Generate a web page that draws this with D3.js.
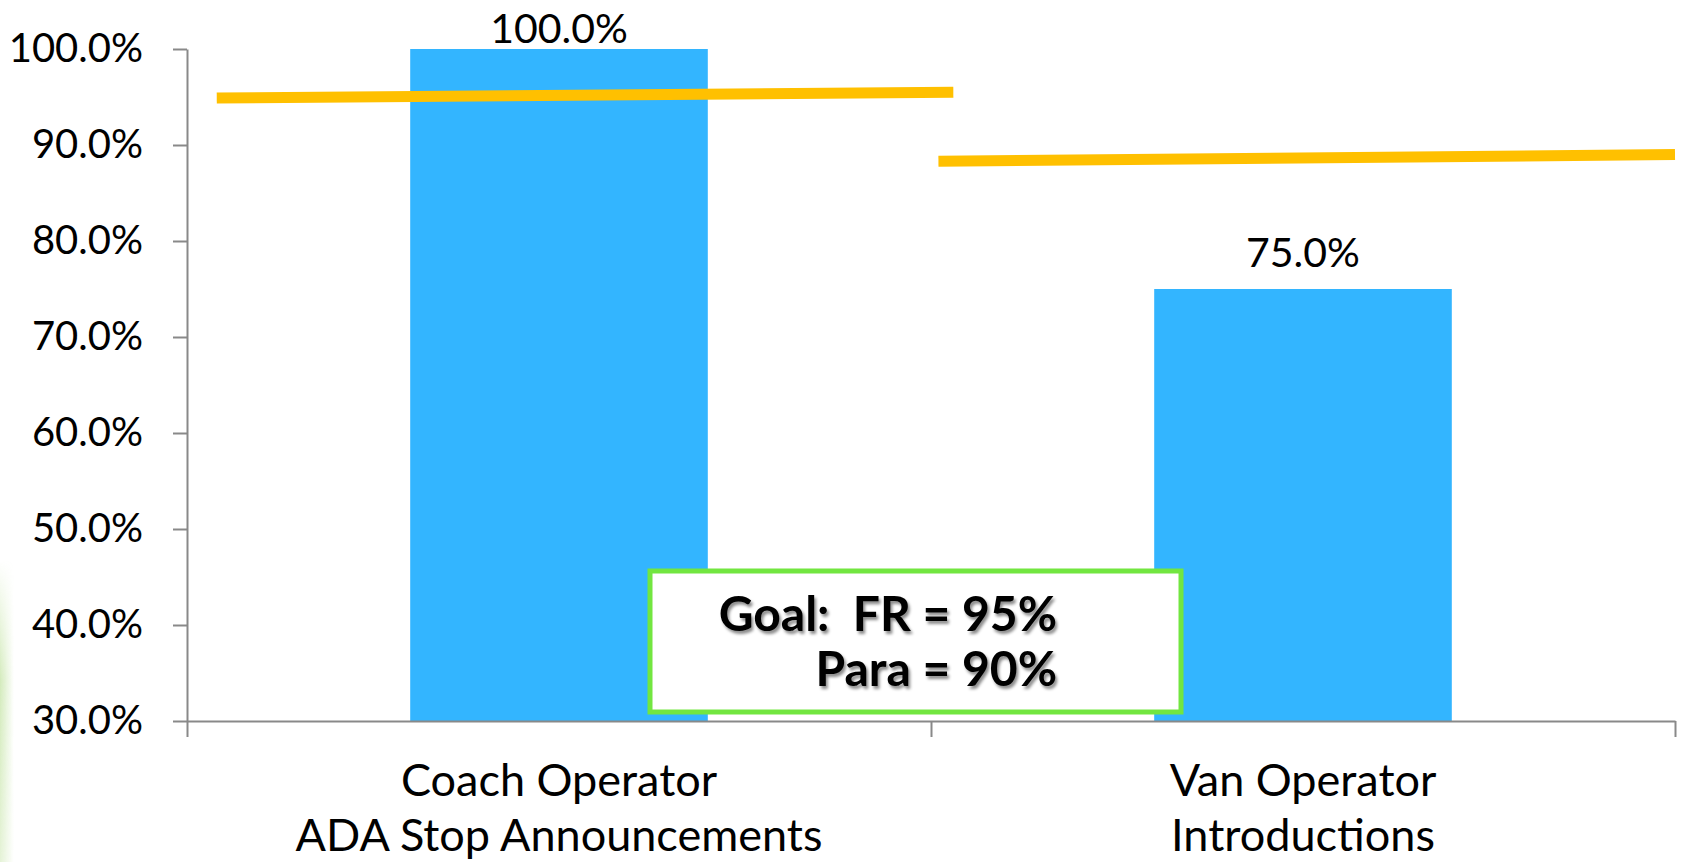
<!DOCTYPE html>
<html lang="en">
<head>
<meta charset="UTF-8" />
<title>Operator Goal Results</title>
<script src="https://d3js.org/d3.v7.min.js"></script>
<style>
  html, body { margin: 0; padding: 0; background: #fff; }
  svg { display: block; font-family: "Gill Sans", "Gill Sans MT", Lato, sans-serif; }
  .axis path, .axis line { stroke: #898989; stroke-width: 2px; }
  .axis text { fill: #000; font-size: 40px; font-family: "Gill Sans", "Gill Sans MT", Lato, sans-serif; }
  .bar-label { font-size: 41px; fill: #000; }
  .cat-label { font-size: 45px; fill: #000; }
  .goal-text { font-size: 48px; font-weight: bold; fill: #000; white-space: pre; }
</style>
</head>
<body>
<svg id="chart"></svg>
<script>
const categories = [["Coach Operator", "ADA Stop Announcements"], ["Van Operator", "Introductions"]];
const values = [100, 75];
const yTicks = [30, 40, 50, 60, 70, 80, 90, 100];

// goal lines (hand drawn in the original, so they lean a bit)
const goalNames = ["FR", "Para"];
const goalTargets = [95, 90];
const goalStart = [94.9, 88.3];
const goalEnd = [95.5, 89.0];
const goalFrom = [0.04, 1.01];   // in category units
const goalTo = [1.03, 2.0];

const W = 1682, H = 862;
const margin = { top: 49, right: 7, bottom: 141, left: 187 };

const svg = d3.select("#chart").attr("width", W).attr("height", H);

// faint green edge glow from the slide background
const defs = svg.append("defs");
const grad = defs.append("linearGradient").attr("id", "glow").attr("x1", 0).attr("x2", 1);
grad.append("stop").attr("offset", 0).attr("stop-color", "#9ed26a").attr("stop-opacity", 0.45);
grad.append("stop").attr("offset", 1).attr("stop-color", "#9ed26a").attr("stop-opacity", 0);
const vgrad = defs.append("linearGradient").attr("id", "glowMask").attr("x1", 0).attr("x2", 0).attr("y1", 0).attr("y2", 1);
vgrad.append("stop").attr("offset", 0).attr("stop-color", "#fff").attr("stop-opacity", 0);
vgrad.append("stop").attr("offset", 0.4).attr("stop-color", "#fff").attr("stop-opacity", 1);
vgrad.append("stop").attr("offset", 1).attr("stop-color", "#fff").attr("stop-opacity", 0.6);
defs.append("mask").attr("id", "glowM")
  .append("rect").attr("x", 0).attr("y", 560).attr("width", 20).attr("height", 302).attr("fill", "url(#glowMask)");

const shadow = defs.append("filter").attr("id", "shadow").attr("x", "-10%").attr("y", "-20%").attr("width", "130%").attr("height", "150%");
shadow.append("feDropShadow").attr("dx", 2).attr("dy", 3).attr("stdDeviation", 1.6)
  .attr("flood-color", "#000").attr("flood-opacity", 0.45);

svg.append("rect").attr("x", 0).attr("y", 560).attr("width", 14).attr("height", 302)
  .attr("fill", "url(#glow)").attr("mask", "url(#glowM)");

const y = d3.scaleLinear().domain([30, 100]).range([H - margin.bottom, margin.top]);
const x = d3.scaleBand().domain(d3.range(values.length))
  .range([margin.left, W - margin.right]).paddingInner(0.6).paddingOuter(0.3);
const xu = d3.scaleLinear().domain([0, values.length]).range([margin.left, W - margin.right]);

// bars
svg.append("g").selectAll("rect")
  .data(values)
  .join("rect")
  .attr("x", (d, i) => x(i))
  .attr("y", d => y(d))
  .attr("width", x.bandwidth())
  .attr("height", d => y(30) - y(d))
  .attr("fill", "#33b5ff");

// value labels
svg.append("g").selectAll("text")
  .data(values)
  .join("text")
  .attr("class", "bar-label")
  .attr("x", (d, i) => x(i) + x.bandwidth() / 2)
  .attr("y", d => Math.max(y(d) - 22, margin.top - 6))
  .attr("text-anchor", "middle")
  .text(d => d.toFixed(1) + "%");

// axes
svg.append("g").attr("class", "axis")
  .attr("transform", `translate(${margin.left},0)`)
  .call(d3.axisLeft(y).tickValues(yTicks).tickFormat(d => d.toFixed(1) + "%")
    .tickSize(14).tickSizeOuter(0).tickPadding(30));

svg.append("g").attr("class", "axis")
  .attr("transform", `translate(0,${y(30)})`)
  .call(d3.axisBottom(xu).tickValues(d3.range(values.length + 1)).tickFormat("")
    .tickSize(16).tickSizeOuter(0));

// category labels
const cat = svg.append("g").selectAll("text")
  .data(categories)
  .join("text")
  .attr("class", "cat-label")
  .attr("text-anchor", "middle")
  .attr("x", (d, i) => xu(i + 0.5))
  .attr("y", 796);
cat.selectAll("tspan")
  .data(d => d)
  .join("tspan")
  .attr("x", function () { return this.parentNode.getAttribute("x"); })
  .attr("dy", (d, i) => i === 0 ? 0 : 55)
  .text(d => d);

// goal lines
svg.append("g").selectAll("line")
  .data(goalNames)
  .join("line")
  .attr("x1", (d, i) => xu(goalFrom[i]))
  .attr("x2", (d, i) => xu(goalTo[i]))
  .attr("y1", (d, i) => y(goalStart[i]))
  .attr("y2", (d, i) => y(goalEnd[i]))
  .attr("stroke", "#ffc000")
  .attr("stroke-width", 11);

// goal box
const box = svg.append("g");
box.append("rect")
  .attr("x", 650).attr("y", 571).attr("width", 531).attr("height", 141)
  .attr("fill", "#fff").attr("stroke", "#72e640").attr("stroke-width", 5);
box.selectAll("text")
  .data(goalNames)
  .join("text")
  .attr("class", "goal-text")
  .attr("filter", "url(#shadow)")
  .attr("text-anchor", "end")
  .attr("x", 1057)
  .attr("y", (d, i) => 631 + i * 55)
  .text((d, i) => (i === 0 ? "Goal:  " : "") + d + " = " + goalTargets[i] + "%");
</script>
</body>
</html>
